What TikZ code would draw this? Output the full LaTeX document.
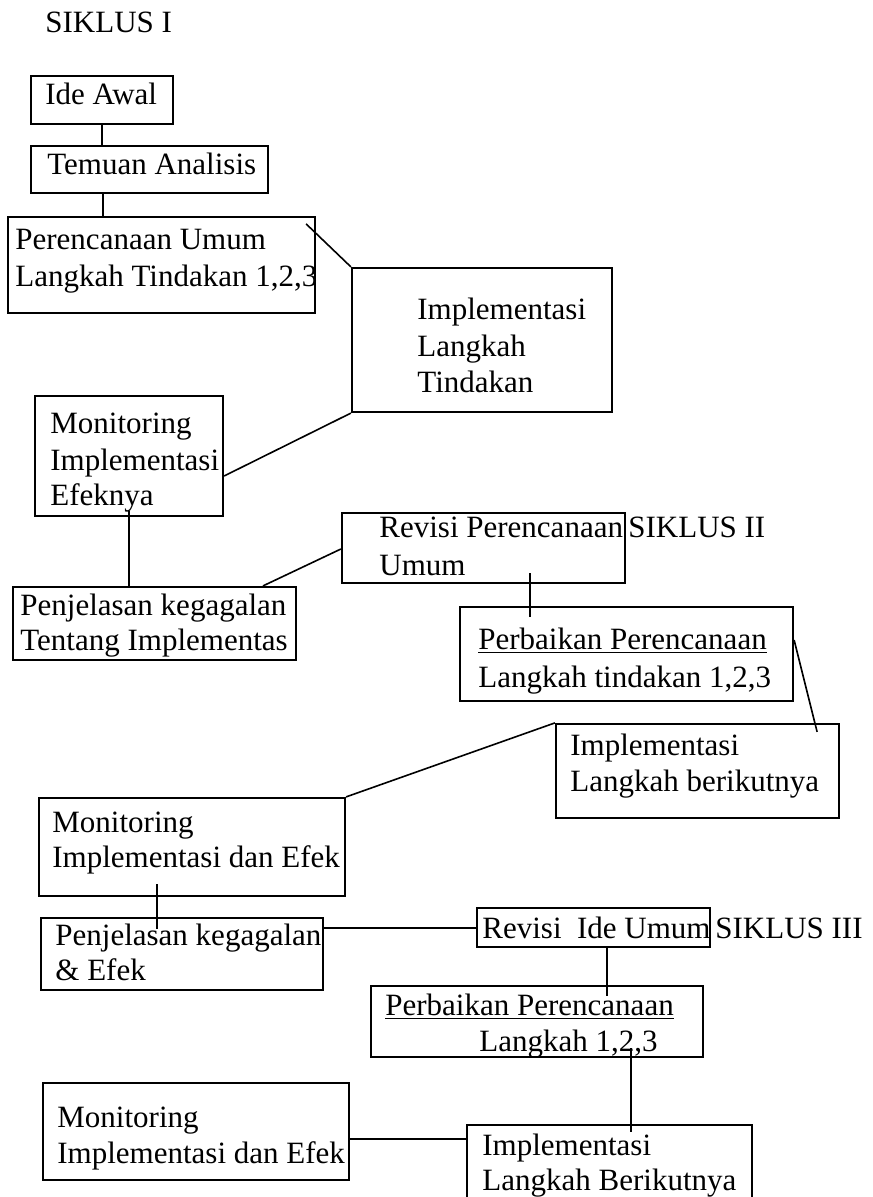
\documentclass[tikz,border=0pt]{standalone}
\usepackage{fontspec}
\setmainfont{Liberation Serif}
\usetikzlibrary{fit}
\begin{document}
\begin{tikzpicture}[x=0.5pt,y=-0.5pt,
  box/.style={draw, line width=1.1pt, inner sep=0pt},
  conn/.style={line width=0.8pt},
  txt/.style={anchor=base west, inner sep=0pt, font=\fontsize{15.5}{18}\selectfont}]
\useasboundingbox (0,0) rectangle (872,1197);

% boxes
\node[box, fit={(31,76) (173,124)}] (ide) {};
\node[box, fit={(31,146) (268,193)}] (temuan) {};
\node[box, fit={(8,217) (315,313)}] (peren) {};
\node[box, fit={(352,268) (612,412)}] (impl1) {};
\node[box, fit={(35,396) (223,516)}] (mon1) {};
\node[box, fit={(13,587) (296,660)}] (penj1) {};
\node[box, fit={(342,513) (625,583)}] (rev1) {};
\node[box, fit={(460,607) (793,701)}] (perb1) {};
\node[box, fit={(556,724) (839,818)}] (impl2) {};
\node[box, fit={(39,798) (345,896)}] (mon2) {};
\node[box, fit={(41,918) (323,990)}] (penj2) {};
\node[box, fit={(477,908) (710,947)}] (rev2) {};
\node[box, fit={(371,986) (703,1057)}] (perb2) {};
\node[box, fit={(467,1125) (752,1215)}] (impl3) {};
\node[box, fit={(43,1083) (349,1180)}] (mon3) {};

% texts
\node[txt] (s1) at (45,33) {SIKLUS I};
\node[txt] (ideT) at (45,105) {Ide Awal};
\node[txt] (temT) at (47,175) {Temuan Analisis};
\node[txt] (perA) at (15,250) {Perencanaan Umum};
\node[txt] (perB) at (15,287) {Langkah Tindakan 1,2,3};
\node[txt] (imA) at (417,320) {Implementasi};
\node[txt] (imB) at (417,357) {Langkah};
\node[txt] (imC) at (417,393) {Tindakan};
\node[txt] (moA) at (50,433) {Monitoring};
\node[txt] (moB) at (50,470) {Implementasi};
\node[txt] (moC) at (50,505) {Efeknya};
\node[txt] (pjA) at (20,615) {Penjelasan kegagalan};
\node[txt] (pjB) at (20,650) {Tentang Implementas};
\node[txt] (rvA) at (379,537) {Revisi Perencanaan};
\node[txt] (rvB) at (379,575) {Umum};
\node[txt] (s2) at (628,537) {SIKLUS II};
\node[txt] (pbA) at (478,649) {\underline{Perbaikan Perencanaan}};
\node[txt] (pbB) at (478,687) {Langkah tindakan 1,2,3};
\node[txt] (i2A) at (570,755) {Implementasi};
\node[txt] (i2B) at (570,791) {Langkah berikutnya};
\node[txt] (m2A) at (52,832) {Monitoring};
\node[txt] (m2B) at (52,867) {Implementasi dan Efek};
\node[txt] (p2A) at (55,945) {Penjelasan kegagalan};
\node[txt] (p2B) at (55,980) {\& Efek};
\node[txt] (r2A) at (482,938) {Revisi\ \ Ide Umum};
\node[txt] (s3) at (715,938) {SIKLUS III};
\node[txt] (b2A) at (385,1015) {\underline{Perbaikan Perencanaan}};
\node[txt] (b2B) at (479,1051) {Langkah 1,2,3};
\node[txt] (i3A) at (482,1155) {Implementasi};
\node[txt] (i3B) at (482,1190) {Langkah Berikutnya};
\node[txt] (m3A) at (57,1127) {Monitoring};
\node[txt] (m3B) at (57,1163) {Implementasi dan Efek};

% connectors
\draw[conn] (ide.south -| 102,0) -- (temuan.north -| 102,0);
\draw[conn] (temuan.south -| 103,0) -- (peren.north -| 103,0);
\draw[conn] ([shift={(-10,8)}]peren.north east) -- (impl1.north west);
\draw[conn] (impl1.south west) -- (mon1.east |- 0,476);
\draw[conn] ([yshift=3pt]mon1.south -| 129,0) -- (penj1.north -| 129,0);
\draw[conn] (penj1.north -| 263,0) -- (rev1.west |- 0,549);
\draw[conn] ([yshift=5.5pt]rev1.south -| 530,0) -- ([yshift=-5.5pt]perb1.north -| 530,0);
\draw[conn] (perb1.east |- 0,640) -- ([shift={(-23,9)}]impl2.north east);
\draw[conn] (impl2.north west) -- (mon2.north east);
\draw[conn] ([yshift=6.5pt]mon2.south -| 157,0) -- ([yshift=-6pt]penj2.north -| 157,0);
\draw[conn] (penj2.east |- 0,928) -- (rev2.west |- 0,928);
\draw[conn] (rev2.south -| 607,0) -- ([yshift=-5.5pt]perb2.north -| 607,0);
\draw[conn] ([yshift=5pt]perb2.south -| 631,0) -- ([yshift=-4pt]impl3.north -| 631,0);
\draw[conn] (mon3.east |- 0,1139) -- (impl3.west |- 0,1139);
\end{tikzpicture}
\end{document}
